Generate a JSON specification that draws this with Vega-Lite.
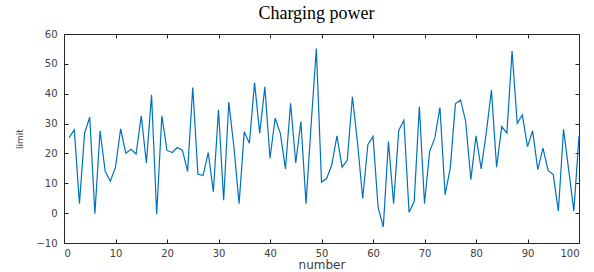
{
  "$schema": "https://vega.github.io/schema/vega-lite/v6.json",
  "width": 515,
  "height": 209,
  "autosize": {"type": "none"},
  "padding": {"left": 64, "top": 34, "right": 15, "bottom": 29},
  "title": {"text": "Charging power", "font": "Liberation Serif", "fontSize": 18, "fontWeight": "normal", "color": "#000000", "anchor": "middle", "offset": 6, "dx": -5},
  "data": {"values": [
    {"number": 1, "limit": 25.3}, {"number": 2, "limit": 27.9}, {"number": 3, "limit": 3.2}, {"number": 4, "limit": 26.8}, {"number": 5, "limit": 32.1},
    {"number": 6, "limit": -0.2}, {"number": 7, "limit": 27.6}, {"number": 8, "limit": 14}, {"number": 9, "limit": 10.7}, {"number": 10, "limit": 15.4},
    {"number": 11, "limit": 28.2}, {"number": 12, "limit": 20.1}, {"number": 13, "limit": 21.4}, {"number": 14, "limit": 19.8}, {"number": 15, "limit": 32.6},
    {"number": 16, "limit": 16.8}, {"number": 17, "limit": 39.6}, {"number": 18, "limit": -0.4}, {"number": 19, "limit": 32.6}, {"number": 20, "limit": 21},
    {"number": 21, "limit": 20.3}, {"number": 22, "limit": 22}, {"number": 23, "limit": 21}, {"number": 24, "limit": 14}, {"number": 25, "limit": 42.1},
    {"number": 26, "limit": 13.1}, {"number": 27, "limit": 12.6}, {"number": 28, "limit": 20.3}, {"number": 29, "limit": 7.2}, {"number": 30, "limit": 34.6},
    {"number": 31, "limit": 4.3}, {"number": 32, "limit": 37.2}, {"number": 33, "limit": 22}, {"number": 34, "limit": 3.2}, {"number": 35, "limit": 27.3},
    {"number": 36, "limit": 23.4}, {"number": 37, "limit": 43.7}, {"number": 38, "limit": 26.8}, {"number": 39, "limit": 42.3}, {"number": 40, "limit": 18.4},
    {"number": 41, "limit": 31.8}, {"number": 42, "limit": 26.8}, {"number": 43, "limit": 14.8}, {"number": 44, "limit": 36.8}, {"number": 45, "limit": 16.8},
    {"number": 46, "limit": 30.7}, {"number": 47, "limit": 3.2}, {"number": 48, "limit": 30}, {"number": 49, "limit": 55.1}, {"number": 50, "limit": 10.4},
    {"number": 51, "limit": 11.6}, {"number": 52, "limit": 16.2}, {"number": 53, "limit": 25.9}, {"number": 54, "limit": 15.4}, {"number": 55, "limit": 17.7},
    {"number": 56, "limit": 39}, {"number": 57, "limit": 23.4}, {"number": 58, "limit": 4.9}, {"number": 59, "limit": 22.9}, {"number": 60, "limit": 25.7},
    {"number": 61, "limit": 1.8}, {"number": 62, "limit": -4.6}, {"number": 63, "limit": 24}, {"number": 64, "limit": 3.2}, {"number": 65, "limit": 27.7},
    {"number": 66, "limit": 31.1}, {"number": 67, "limit": 0.3}, {"number": 68, "limit": 3.9}, {"number": 69, "limit": 35.7}, {"number": 70, "limit": 3.2},
    {"number": 71, "limit": 20.7}, {"number": 72, "limit": 25.1}, {"number": 73, "limit": 35.4}, {"number": 74, "limit": 6.2}, {"number": 75, "limit": 15.1},
    {"number": 76, "limit": 36.6}, {"number": 77, "limit": 37.9}, {"number": 78, "limit": 30.7}, {"number": 79, "limit": 11.2}, {"number": 80, "limit": 25.9},
    {"number": 81, "limit": 14.8}, {"number": 82, "limit": 27}, {"number": 83, "limit": 41.2}, {"number": 84, "limit": 15.4}, {"number": 85, "limit": 29},
    {"number": 86, "limit": 26.8}, {"number": 87, "limit": 54.3}, {"number": 88, "limit": 30.1}, {"number": 89, "limit": 32.9}, {"number": 90, "limit": 22.3},
    {"number": 91, "limit": 27.6}, {"number": 92, "limit": 14.6}, {"number": 93, "limit": 21.8}, {"number": 94, "limit": 14.3}, {"number": 95, "limit": 12.9},
    {"number": 96, "limit": 0.7}, {"number": 97, "limit": 28.1}, {"number": 98, "limit": 14.5}, {"number": 99, "limit": 0.7}, {"number": 100, "limit": 25.8}
  ]},
  "layer": [
    {
      "mark": {"type": "line", "color": "#0072BD", "strokeWidth": 1.2},
      "encoding": {
        "x": {"field": "number", "type": "quantitative", "scale": {"domain": [0, 100], "nice": false, "zero": false},
          "axis": {"orient": "bottom", "values": [0,10,20,30,40,50,60,70,80,90,100], "title": "number", "titleFontSize": 12, "titlePadding": 1, "labelPadding": 9}},
        "y": {"field": "limit", "type": "quantitative", "scale": {"domain": [-10, 60], "nice": false, "zero": false},
          "axis": {"orient": "left", "values": [-10,0,10,20,30,40,50,60], "title": "limit", "titleFontSize": 9, "titlePadding": 11, "labelPadding": 11}}
      }
    },
    {
      "mark": {"type": "line", "opacity": 0},
      "encoding": {
        "x": {"field": "number", "type": "quantitative", "axis": {"orient": "top", "values": [0,10,20,30,40,50,60,70,80,90,100], "labels": false, "title": null}},
        "y": {"field": "limit", "type": "quantitative", "axis": {"orient": "right", "values": [-10,0,10,20,30,40,50,60], "labels": false, "title": null}}
      }
    }
  ],
  "resolve": {"axis": {"x": "independent", "y": "independent"}},
  "config": {
    "view": {"stroke": null},
    "axis": {
      "grid": false,
      "domainColor": "#262626",
      "domainWidth": 1,
      "tickColor": "#262626",
      "tickSize": -4,
      "labelPadding": 9,
      "labelFont": "DejaVu Sans",
      "labelFontSize": 10,
      "labelColor": "#404040",
      "titleFont": "DejaVu Sans",
      "titleFontWeight": "normal",
      "titleColor": "#404040"
    }
  }
}
